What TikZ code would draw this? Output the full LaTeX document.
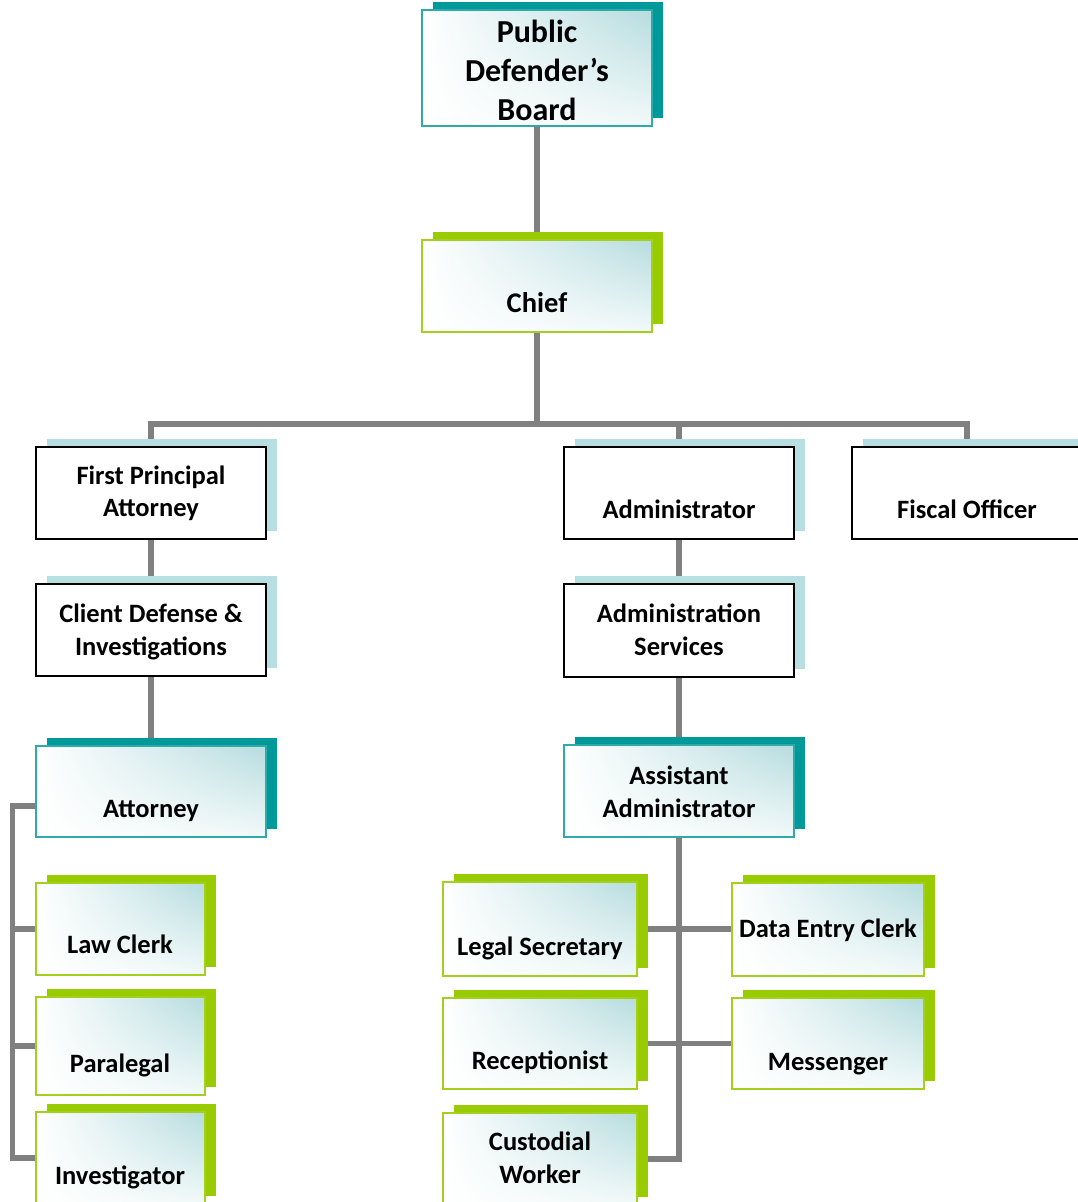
\documentclass[tikz,border=0pt]{standalone}
\usepackage{fontspec}
\setmainfont{Carlito}
\usetikzlibrary{shadows,shadings,backgrounds}
\definecolor{tealS}{HTML}{009999}
\definecolor{tealB}{HTML}{2EAAAA}
\definecolor{greenS}{HTML}{99CC00}
\definecolor{greenB}{HTML}{A3CF1F}
\definecolor{blueS}{HTML}{B7DFE2}
\definecolor{shadeT}{HTML}{B6DCDF}
\definecolor{shadeL}{HTML}{F2F9F9}
\definecolor{lineG}{HTML}{808080}
\begin{document}
\begin{tikzpicture}[x=1pt,y=-1pt,
  base/.style 2 args={rectangle, inner sep=0pt, outer sep=0pt, line width=2pt,
    minimum width=#1pt, minimum height=#2pt},
  shd/.style={drop shadow={shadow xshift=10.5pt, shadow yshift=8pt, opacity=1, fill=#1}},
  grad/.style={shade, shading=bilinear interpolation, upper left=white, upper right=shadeT,
    lower left=white, lower right=shadeL},
  gbox/.style 2 args={base={#1}{#2}, draw=greenB, grad, shd=greenS},
  tbox/.style 2 args={base={#1}{#2}, draw=tealB, grad, shd=tealS},
  wbox/.style 2 args={base={#1}{#2}, draw=black, fill=white, shd=blueS},
  lbl/.style={font=\bfseries\fontsize{26.5}{32.5}\selectfont, align=center, anchor=base, inner sep=0pt},
  conn/.style={draw=lineG, line width=5.5pt}]
\useasboundingbox (0,0) rectangle (1078,1202);

% boxes
\node[tbox={230}{116}] (board) at (537,68) {};
\node[gbox={230}{92}] (chief) at (537,286) {};
\node[wbox={230}{92}] (fpa) at (151,493) {};
\node[wbox={230}{92}] (cdi) at (151,630) {};
\node[wbox={230}{92}] (admin) at (679,493) {};
\node[wbox={230}{92}] (fiscal) at (967,493) {};
\node[wbox={230}{93}] (adminsvc) at (679,630.5) {};
\node[tbox={230}{91}] (attorney) at (151,791.5) {};
\node[tbox={230}{92}] (asst) at (679,791) {};
\node[gbox={169}{92}] (lawclerk) at (120.5,929) {};
\node[gbox={169}{98}] (paralegal) at (120.5,1046) {};
\node[gbox={169}{92}] (investigator) at (120.5,1158) {};
\node[gbox={194}{94}] (legal) at (540,929) {};
\node[gbox={192}{93}] (data) at (828,929) {};
\node[gbox={194}{91}] (recep) at (540,1043.5) {};
\node[gbox={192}{91}] (mess) at (828,1043.5) {};
\node[gbox={194}{92}] (cust) at (540,1159) {};

% labels (base anchor = baseline of last line)
\node[lbl, font=\bfseries\fontsize{32}{39}\selectfont] (t-board) at (537,120) {Public\\Defender’s\\Board};
\node[lbl, font=\bfseries\fontsize{28.5}{34}\selectfont] (t-chief) at (537,312) {Chief};
\node[lbl] (t-fpa) at (151,516.7) {First Principal\\Attorney};
\node[lbl] (t-cdi) at (151,655) {Client Defense \&\\Investigations};
\node[lbl] (t-admin) at (679,518) {Administrator};
\node[lbl] (t-fiscal) at (967,518) {Fiscal Officer};
\node[lbl] (t-adminsvc) at (679,655) {Administration\\Services};
\node[lbl] (t-attorney) at (151,817) {Attorney};
\node[lbl] (t-asst) at (679,817) {Assistant\\Administrator};
\node[lbl] (t-lawclerk) at (120,953) {Law Clerk};
\node[lbl] (t-paralegal) at (120,1072) {Paralegal};
\node[lbl] (t-investigator) at (120,1184) {Investigator};
\node[lbl] (t-legal) at (540,955) {Legal Secretary};
\node[lbl] (t-data) at (828,937) {Data Entry Clerk};
\node[lbl] (t-recep) at (540,1069) {Receptionist};
\node[lbl] (t-mess) at (828,1070) {Messenger};
\node[lbl] (t-cust) at (540,1183) {Custodial\\Worker};

% connectors
\begin{scope}[on background layer]
\coordinate (bar) at (537,424);
\draw[conn] (board.south) -- (chief.north);
\draw[conn] (chief.south) -- (bar);
\draw[conn] (fpa.north) |- (bar) -| (fiscal.north);
\draw[conn] (admin.north) -- (admin.north |- bar);
\draw[conn] (fpa.south) -- (cdi.north);
\draw[conn] (cdi.south) -- (attorney.north);
\draw[conn] (admin.south) -- (adminsvc.north);
\draw[conn] (adminsvc.south) -- (asst.north);
\draw[conn] ([yshift=-14.5pt]attorney.west) -| ([xshift=-23.5pt]investigator.west) -- (investigator.west);
\draw[conn] (lawclerk.west) -- ++(-23.5,0);
\draw[conn] (paralegal.west) -- ++(-23.5,0);
\draw[conn] (asst.south) |- (cust.east);
\draw[conn] (legal.east) -- (data.west);
\draw[conn] (recep.east) -- (mess.west);
\end{scope}
\end{tikzpicture}
\end{document}
